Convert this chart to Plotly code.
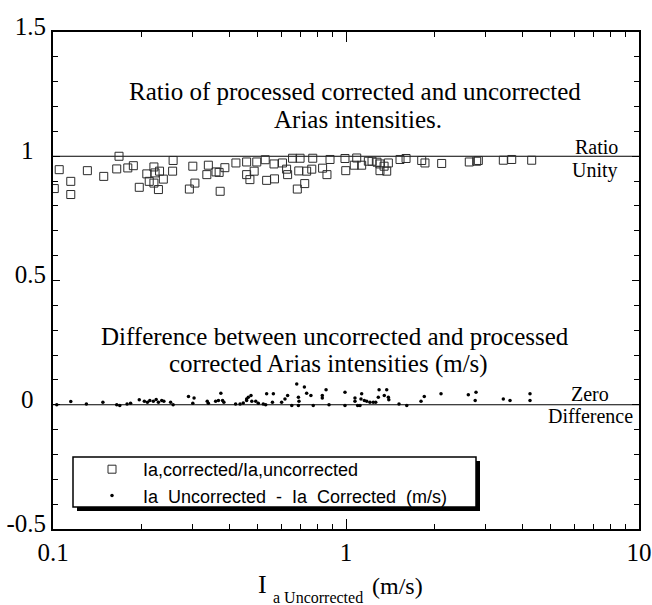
import plotly.graph_objects as go

# Processed-corrected / uncorrected Arias intensity ratio vs uncorrected Ia (m/s)
ratio_ia = [0.101, 0.105, 0.115, 0.115, 0.131, 0.149, 0.168, 0.165, 0.180, 0.188,
            0.197, 0.209, 0.221, 0.213, 0.229, 0.238, 0.231, 0.223, 0.221, 0.257,
            0.256, 0.292, 0.305, 0.300, 0.335, 0.339, 0.360, 0.369, 0.372, 0.386,
            0.421, 0.458, 0.458, 0.470, 0.486, 0.496, 0.530, 0.536, 0.570, 0.568,
            0.607, 0.627, 0.632, 0.657, 0.682, 0.723, 0.697, 0.690, 0.734, 0.770,
            0.764, 0.832, 0.861, 0.882, 0.992, 0.998, 1.067, 1.088, 1.131, 1.192,
            1.227, 1.276, 1.306, 1.306, 1.377, 1.395, 1.349, 1.529, 1.603, 1.813,
            1.860, 2.121, 2.635, 2.793, 2.829, 3.443, 3.678, 4.303]
ratio_val = [0.870, 0.946, 0.899, 0.846, 0.942, 0.919, 1.000, 0.949, 0.953, 0.962,
             0.875, 0.929, 0.957, 0.899, 0.866, 0.908, 0.940, 0.933, 0.892, 0.983,
             0.940, 0.868, 0.892, 0.960, 0.926, 0.964, 0.937, 0.935, 0.859, 0.954,
             0.973, 0.977, 0.926, 0.906, 0.940, 0.977, 0.986, 0.903, 0.909, 0.969,
             0.973, 0.948, 0.926, 0.992, 0.868, 0.890, 0.992, 0.941, 0.940, 0.992,
             0.948, 0.952, 0.926, 0.987, 0.991, 0.942, 0.964, 0.993, 0.964, 0.980,
             0.980, 0.976, 0.942, 0.969, 0.940, 0.973, 0.960, 0.987, 0.991, 0.983,
             0.973, 0.971, 0.977, 0.980, 0.983, 0.984, 0.987, 0.984]

# Uncorrected minus processed-corrected Arias intensity (m/s)
diff_ia = [0.103, 0.115, 0.130, 0.148, 0.165, 0.169, 0.179, 0.184, 0.197, 0.205,
           0.210, 0.214, 0.220, 0.225, 0.229, 0.235, 0.239, 0.252, 0.257, 0.290,
           0.303, 0.300, 0.336, 0.339, 0.359, 0.367, 0.374, 0.379, 0.383, 0.420,
           0.435, 0.446, 0.458, 0.464, 0.458, 0.474, 0.477, 0.492, 0.502, 0.522,
           0.532, 0.536, 0.561, 0.565, 0.603, 0.619, 0.632, 0.653, 0.679, 0.688,
           0.688, 0.691, 0.721, 0.734, 0.759, 0.773, 0.830, 0.830, 0.855, 0.875,
           0.992, 0.992, 1.073, 1.073, 1.096, 1.116, 1.125, 1.131, 1.155, 1.177,
           1.207, 1.239, 1.263, 1.289, 1.297, 1.351, 1.377, 1.395, 1.400, 1.517,
           1.612, 1.803, 1.850, 2.110, 2.615, 2.778, 2.760, 3.443, 3.629, 4.246,
           4.246]
diff_val = [0.000, 0.013, 0.003, 0.010, 0.000, -0.003, 0.003, 0.006, 0.020, 0.014,
            0.010, 0.017, 0.014, 0.021, 0.010, 0.017, 0.014, 0.010, 0.000, 0.033,
            0.027, 0.006, 0.014, 0.006, 0.014, 0.017, 0.046, 0.017, 0.010, 0.003,
            0.003, 0.007, 0.017, 0.030, 0.023, 0.037, 0.014, 0.014, 0.006, 0.003,
            0.000, 0.044, 0.010, 0.044, 0.010, 0.023, 0.037, -0.003, 0.084, 0.030,
            -0.003, 0.014, 0.071, 0.046, 0.037, -0.003, 0.037, 0.027, 0.060, 0.000,
            0.050, -0.003, 0.027, 0.014, -0.003, -0.003, 0.023, 0.044, 0.017, 0.014,
            0.010, 0.010, 0.010, 0.030, 0.060, 0.037, 0.060, 0.030, 0.020, 0.003,
            -0.003, 0.014, 0.033, 0.044, 0.040, 0.050, 0.017, 0.023, 0.017, 0.044,
            0.017]

x_tick_vals = [0.1, 1, 10]
x_tick_text = ["0.1", "1", "10"]
x_minor_vals = [0.2, 0.3, 0.4, 0.5, 0.6, 0.7, 0.8, 0.9, 2, 3, 4, 5, 6, 7, 8, 9]
y_tick_vals = [-0.5, 0, 0.5, 1, 1.5]
y_tick_text = ["-0.5", "0\u2002", "0.5", "1\u2002", "1.5"]

SERIF = "Liberation Serif, Times New Roman, serif"
SANS = "Liberation Sans, Arial, sans-serif"

W, H = 652, 605
L, R, T, B = 53, 13, 32, 76
PW, PH = W - L - R, H - T - B


def px(x):
    return (x - L) / PW


def py(y):
    return (H - B - y) / PH


fig = go.Figure()
fig.add_trace(go.Scatter(
    x=ratio_ia, y=ratio_val, mode="markers",
    name="Ia,corrected/Ia,uncorrected",
    marker=dict(symbol="square-open", size=8, color="#2b2b2b", line=dict(width=1)),
))
fig.add_trace(go.Scatter(
    x=diff_ia, y=diff_val, mode="markers",
    name="Ia  Uncorrected  -  Ia  Corrected  (m/s)",
    marker=dict(symbol="circle", size=3.5, color="black"),
))

shapes = [
    # ratio unity and zero difference reference lines
    dict(type="line", xref="paper", x0=0, x1=1, yref="y", y0=1, y1=1,
         line=dict(color="black", width=1), layer="below"),
    dict(type="line", xref="paper", x0=0, x1=1, yref="y", y0=0, y1=0,
         line=dict(color="black", width=1), layer="below"),
    # legend frame with drop shadow
    dict(type="rect", xref="paper", yref="paper",
         x0=px(77), x1=px(480), y0=py(511), y1=py(461),
         fillcolor="black", line=dict(width=0), layer="above"),
    dict(type="rect", xref="paper", yref="paper",
         x0=px(73), x1=px(476), y0=py(507), y1=py(457),
         fillcolor="white", line=dict(color="black", width=1.5), layer="above"),
]


def note(text, x, y, size, family=SERIF):
    return dict(text=text, xref="paper", yref="paper", x=px(x), y=py(y),
                xanchor="center", yanchor="middle", showarrow=False,
                font=dict(family=family, size=size, color="black"))


annotations = [
    note("Ratio of processed corrected and uncorrected", 354.5, 91, 25),
    note("Arias intensities.", 358, 119, 25),
    note("Difference between uncorrected and processed", 335, 336, 25),
    note("corrected Arias intensities (m/s)", 328, 364, 25),
    note("Ratio", 596, 147, 20),
    note("Unity", 595, 171, 20),
    note("Zero", 590, 394, 20),
    note("Difference", 590, 416, 20),
    note("I", 262, 584, 26),
    note("a Uncorrected", 318, 597, 16),
    note("(m/s)", 397, 586, 24),
]

axis_common = dict(
    showline=True, linecolor="black", linewidth=2, mirror="ticks",
    ticks="inside", tickcolor="black", tickwidth=1,
    showgrid=False, zeroline=False, automargin=False,
    tickfont=dict(family=SERIF, size=25, color="black"),
)

fig.update_layout(
    width=W, height=H,
    margin=dict(l=L, r=R, t=T, b=B, pad=0, autoexpand=False),
    paper_bgcolor="white", plot_bgcolor="white",
    showlegend=True,
    legend=dict(
        x=px(81), y=py(451), xanchor="left", yanchor="top",
        bgcolor="rgba(0,0,0,0)", borderwidth=0, itemwidth=52,
        font=dict(family=SANS, size=18, color="black"),
    ),
    xaxis=dict(
        type="log", range=[-1, 1], tickmode="array",
        tickvals=x_tick_vals, ticktext=x_tick_text, ticklen=10,
        minor=dict(tickmode="array", tickvals=x_minor_vals, ticks="inside",
                   ticklen=5, tickcolor="black", tickwidth=1, showgrid=False),
        **axis_common,
    ),
    yaxis=dict(
        range=[-0.5, 1.5], tickmode="array",
        tickvals=y_tick_vals, ticktext=y_tick_text, ticklen=7,
        ticklabelshift=-6,
        minor=dict(tickmode="linear", tick0=0, dtick=0.1, ticks="inside",
                   ticklen=5, tickcolor="black", tickwidth=1, showgrid=False),
        **axis_common,
    ),
    shapes=shapes,
    annotations=annotations,
)

fig.write_html("out.html")
